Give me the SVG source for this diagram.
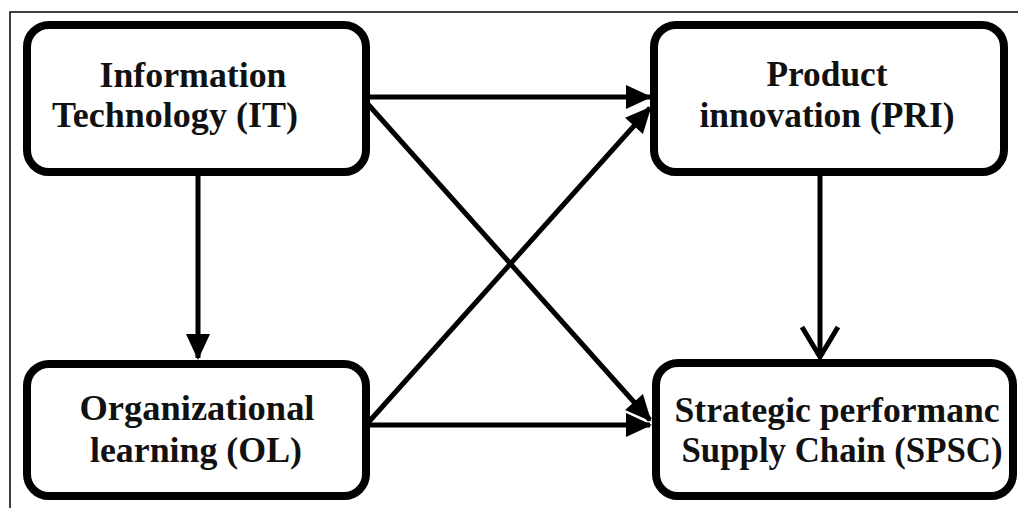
<svg xmlns="http://www.w3.org/2000/svg" width="1018" height="508" viewBox="0 0 1018 508">
<style>
.box{fill:#fff;stroke:#000;stroke-width:8}
.t{font-family:"Liberation Serif","Times New Roman",serif;font-weight:bold;font-size:35px;fill:#111;text-anchor:middle}
.c{stroke:#000;stroke-width:5;fill:none}
</style>
<defs>
<marker id="ah" markerWidth="30" markerHeight="30" refX="26" refY="15" orient="auto" markerUnits="userSpaceOnUse" viewBox="0 0 30 30">
<path d="M2,3 L28,15 L2,27 z" fill="#000"/>
</marker>
<marker id="ov" markerWidth="40" markerHeight="44" refX="34" refY="22" orient="auto" markerUnits="userSpaceOnUse" viewBox="0 0 40 44">
<path d="M4,4 L34,22 L4,40" fill="none" stroke="#000" stroke-width="5"/>
</marker>
</defs>
<rect width="1018" height="508" fill="#fff"/>
<path d="M10,508 V12 H1018" fill="none" stroke="#000" stroke-width="1.5"/>
<g id="connectors">
<line class="c" x1="366" y1="97" x2="650" y2="97" marker-end="url(#ah)"/>
<line class="c" x1="366" y1="102" x2="650" y2="420" marker-end="url(#ah)"/>
<line class="c" x1="366" y1="425" x2="650" y2="108" marker-end="url(#ah)"/>
<line class="c" x1="366" y1="425" x2="650" y2="425" marker-end="url(#ah)"/>
<line class="c" x1="198" y1="172" x2="198" y2="358" marker-end="url(#ah)"/>
<line class="c" x1="820" y1="172" x2="820" y2="357" marker-end="url(#ov)"/>
</g>
<g id="it">
<rect class="box" x="27" y="25" width="339" height="147" rx="22"/>
<text class="t" x="193" y="87" textLength="187" lengthAdjust="spacingAndGlyphs">Information</text>
<text class="t" x="175" y="127" textLength="246" lengthAdjust="spacingAndGlyphs">Technology (IT)</text>
</g>
<g id="pri">
<rect class="box" x="654" y="25" width="350" height="147" rx="22"/>
<text class="t" x="827" y="86" textLength="121" lengthAdjust="spacingAndGlyphs">Product</text>
<text class="t" x="827" y="127" textLength="255" lengthAdjust="spacingAndGlyphs">innovation (PRI)</text>
</g>
<g id="ol">
<rect class="box" x="27" y="364" width="339" height="132" rx="22"/>
<text class="t" x="197" y="420" textLength="235" lengthAdjust="spacingAndGlyphs">Organizational</text>
<text class="t" x="196" y="462" textLength="212" lengthAdjust="spacingAndGlyphs">learning (OL)</text>
</g>
<g id="spsc">
<rect class="box" x="656" y="363" width="357" height="133" rx="22"/>
<text class="t" x="837" y="422" textLength="325" lengthAdjust="spacingAndGlyphs">Strategic performanc</text>
<text class="t" x="842" y="462" textLength="321" lengthAdjust="spacingAndGlyphs">Supply Chain (SPSC)</text>
</g>
</svg>
